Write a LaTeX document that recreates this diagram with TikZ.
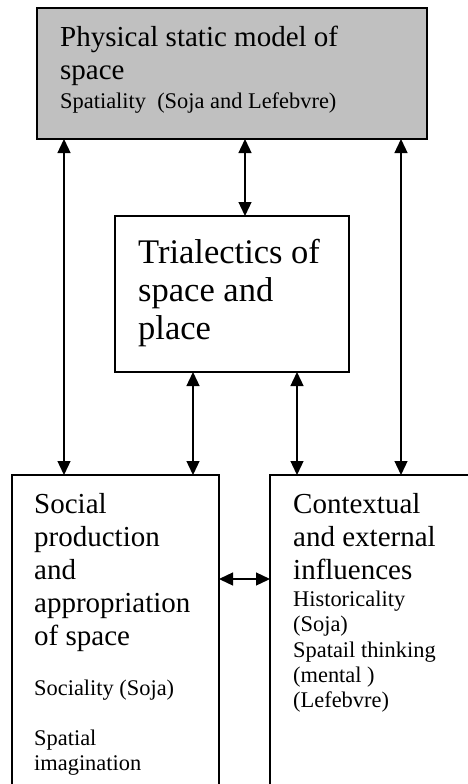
\documentclass[tikz,border=0pt]{standalone}
\usepackage{fontspec}
\setmainfont{Liberation Serif}
\usetikzlibrary{arrows.meta}
\definecolor{boxgray}{HTML}{C0C0C0}
\begin{document}
\begin{tikzpicture}[x=1pt,y=-1pt,
  box/.style={draw, line width=1.3pt, inner sep=0pt, outer sep=0pt, anchor=north west},
  link/.style={line width=1.3pt, {Triangle[length=14pt,width=13pt]}-{Triangle[length=14pt,width=13pt]}},
  bigtxt/.style={font=\fontsize{29}{33}\selectfont, anchor=base west, inner sep=0pt},
  hugetxt/.style={font=\fontsize{34.5}{38}\selectfont, anchor=base west, inner sep=0pt},
  smalltxt/.style={font=\fontsize{22.4}{25}\selectfont, anchor=base west, inner sep=0pt}]
\useasboundingbox (0,0) rectangle (468,784);
\fill[white] (0,0) rectangle (468,784);
% boxes
\node[box, fill=boxgray, minimum width=390pt, minimum height=131pt] (phys) at (37,8) {};
\node[box, fill=white, minimum width=234pt, minimum height=156pt] (tri) at (115,216) {};
\node[box, fill=white, minimum width=207pt, minimum height=340pt] (soc) at (12,475) {};
\node[box, fill=white, minimum width=210pt, minimum height=340pt] (ctx) at (270,475) {};
% texts
\node[bigtxt] (p1) at (60,47) {Physical static model of};
\node[bigtxt] (p2) at (60,80) {space};
\node[smalltxt] (p3) at (60,108) {Spatiality\ \ (Soja and Lefebvre)};
\node[hugetxt] (m1) at (138,263) {Trialectics of};
\node[hugetxt] (m2) at (138,301) {space and};
\node[hugetxt] (m3) at (138,339) {place};
\node[bigtxt] (s1) at (34,513) {Social};
\node[bigtxt] (s2) at (34,546) {production};
\node[bigtxt] (s3) at (34,579) {and};
\node[bigtxt] (s4) at (34,612) {appropriation};
\node[bigtxt] (s5) at (34,645) {of space};
\node[smalltxt] (s6) at (34,695) {Sociality (Soja)};
\node[smalltxt] (s7) at (34,745) {Spatial};
\node[smalltxt] (s8) at (34,770) {imagination};
\node[bigtxt] (c1) at (293,513) {Contextual};
\node[bigtxt] (c2) at (293,546) {and external};
\node[bigtxt] (c3) at (293,579) {influences};
\node[smalltxt] (c4) at (293,606) {Historicality};
\node[smalltxt] (c5) at (293,631) {(Soja)};
\node[smalltxt] (c6) at (293,657) {Spatail thinking};
\node[smalltxt] (c7) at (293,682) {(mental )};
\node[smalltxt] (c8) at (293,707) {(Lefebvre)};
% connectors
\coordinate (xl) at (64,0);
\coordinate (xm) at (245,0);
\coordinate (xa) at (193,0);
\coordinate (xb) at (297,0);
\coordinate (xr) at (401,0);
\coordinate (yh) at (0,579);
\draw[link] (phys.south -| xl) -- (soc.north -| xl);
\draw[link] (phys.south -| xr) -- (ctx.north -| xr);
\draw[link] (phys.south -| xm) -- (tri.north -| xm);
\draw[link] (tri.south -| xa) -- (soc.north -| xa);
\draw[link] (tri.south -| xb) -- (ctx.north -| xb);
\draw[link] (soc.east |- yh) -- (ctx.west |- yh);
\end{tikzpicture}
\end{document}
